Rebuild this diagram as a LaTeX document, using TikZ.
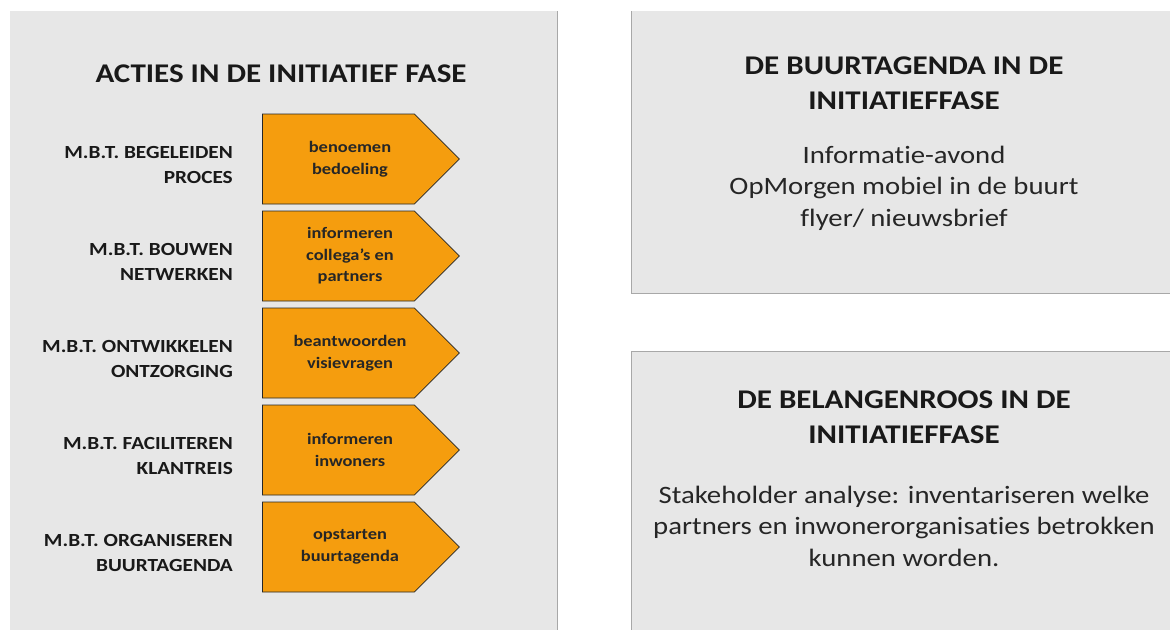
\documentclass[tikz,border=0pt]{standalone}
\usepackage{fontspec}
\setmainfont{Carlito}[FakeStretch=1.15, Ligatures=NoCommon]
\usetikzlibrary{shapes.symbols}

\definecolor{actorange}{RGB}{245,157,14}
\definecolor{panelgrey}{RGB}{231,231,231}
\definecolor{edgegrey}{RGB}{168,168,168}

\tikzset{
    panel/.style={fill=panelgrey},
    paneledge/.style={draw=edgegrey, line width=1pt},
    actbox/.style={signal, signal to=east, signal pointer angle=90,
        fill=actorange, draw=black!85, line width=0.8pt,
        minimum width=197pt, minimum height=90pt, inner sep=0pt, anchor=west},
    acttext/.style={align=center, text=black!85, inner sep=0pt,
        font=\bfseries\fontsize{16}{21.5}\selectfont},
    actlabel/.style={anchor=east, align=right, text=black!90, inner sep=0pt,
        font=\bfseries\fontsize{18.5}{25}\selectfont},
    paneltitle/.style={align=center, text=black!90,
        font=\bfseries\fontsize{27}{34}\selectfont},
    boxtitle/.style={align=center, text=black!90,
        font=\bfseries\fontsize{27}{35}\selectfont},
    boxbody/.style={align=center, text=black!85,
        font=\fontsize{25}{31.5}\selectfont}
}

\begin{document}
\begin{tikzpicture}[x=1pt,y=1pt]
    \useasboundingbox (0,0) rectangle (1170,-630);
    % panels
    \fill[panel] (10,-11) rectangle (557,-630);
    \draw[paneledge] (557,-11) -- (557,-630);
    \fill[panel] (631,-11) rectangle (1170,-293);
    \draw[paneledge] (631,-11) -- (631,-293) -- (1170,-293);
    \fill[panel] (631,-351) rectangle (1170,-630);
    \draw[paneledge] (1170,-351) -- (631,-351) -- (631,-630);

    \node[paneltitle] (acttitle) at (281,-74) {ACTIES IN DE INITIATIEF FASE};
    \foreach \i/\lbl/\act in {
        0/{M.B.T. BEGELEIDEN\\PROCES}/{benoemen\\bedoeling},
        1/{M.B.T. BOUWEN\\NETWERKEN}/{informeren\\collega's en\\partners},
        2/{M.B.T. ONTWIKKELEN\\ONTZORGING}/{beantwoorden\\visievragen},
        3/{M.B.T. FACILITEREN\\KLANTREIS}/{informeren\\inwoners},
        4/{M.B.T. ORGANISEREN\\BUURTAGENDA}/{opstarten\\buurtagenda}} {
        \node[actbox] (act\i) at (262,{-159-97*\i}) {};
        \node[acttext] (txt\i) at (350,{-159-97*\i}) {\act};
        \node[actlabel] (lbl\i) at (233,{-165-97*\i}) {\lbl};
    }

    \node[boxtitle] (agendatitle) at (904,-83) {DE BUURTAGENDA IN DE\\INITIATIEFFASE};
    \node[boxbody] (agendatext) at (904,-188) {Informatie-avond\\OpMorgen mobiel in de buurt\\flyer/ nieuwsbrief};

    \node[boxtitle] (roostitle) at (904,-417) {DE BELANGENROOS IN DE\\INITIATIEFFASE};
    \node[boxbody] (roostext) at (904,-526) {Stakeholder analyse: inventariseren welke\\partners en inwonerorganisaties betrokken\\kunnen worden.};
\end{tikzpicture}
\end{document}
